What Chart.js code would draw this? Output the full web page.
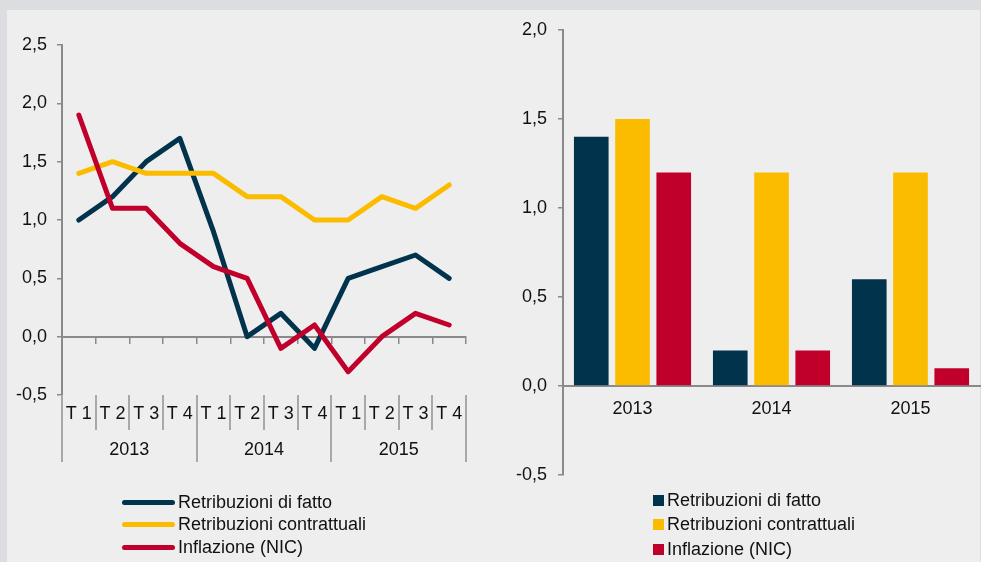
<!DOCTYPE html>
<html>
<head>
<meta charset="utf-8">
<script src="https://cdn.jsdelivr.net/npm/chart.js@4/dist/chart.umd.min.js"></script>
<style>
  html,body{margin:0;padding:0;}
  body{width:981px;height:562px;background:#dcdde0;position:relative;overflow:hidden;font-family:"Liberation Sans",Arial,sans-serif;}
  #panel{position:absolute;left:7px;top:10px;width:973px;height:552px;background:#eeeeee;}
  .wrap{position:absolute;top:0;height:562px;}
  .leg{position:absolute;font-size:18px;color:#111;}
  .row{position:absolute;left:0;white-space:nowrap;display:flex;align-items:center;height:22px;}
</style>
</head>
<body>
<div id="panel"></div>
<div class="wrap" style="left:0;width:490px;"><canvas id="c1" width="490" height="562"></canvas></div>
<div class="wrap" style="left:490px;width:491px;"><canvas id="c2" width="491" height="562"></canvas></div>
<div class="leg" id="leg1" style="left:122px;top:491px;"></div>
<div class="leg" id="leg2" style="left:653px;top:489px;"></div>
<script>
// ---- data ----
const quarters = ['T 1','T 2','T 3','T 4'];
const years = ['2013','2014','2015'];
const seriesNames = ['Retribuzioni di fatto','Retribuzioni contrattuali','Inflazione (NIC)'];
const fattoQ        = [1.0, 1.2, 1.5, 1.7, 0.9, 0.0, 0.2, -0.1, 0.5, 0.6, 0.7, 0.5];
const contrattualiQ = [1.4, 1.5, 1.4, 1.4, 1.4, 1.2, 1.2, 1.0, 1.0, 1.2, 1.1, 1.3];
const inflazioneQ   = [1.9, 1.1, 1.1, 0.8, 0.6, 0.5, -0.1, 0.1, -0.3, 0.0, 0.2, 0.1];
const fattoY        = [1.4, 0.2, 0.6];
const contrattualiY = [1.5, 1.2, 1.2];
const inflazioneY   = [1.2, 0.2, 0.1];
const colors = ['#01334d', '#fbbc00', '#c0002b'];

const FONT = {family: '"Liberation Sans", Arial, sans-serif', size: 18};
const AXIS = '#8a8a8a';
const fmt = v => Number(v).toFixed(1).replace('.', ',');

const quarterCats = [];
years.forEach(y => quarters.forEach(q => quarterCats.push(y + ' ' + q)));

// ---- plugin for the two-level category axis of the line chart ----
const multiLevel = {
  id: 'multiLevel',
  afterDraw(chart) {
    const {ctx, chartArea, scales} = chart;
    const xs = scales.x;
    const n = quarterCats.length;
    const w = (chartArea.right - chartArea.left) / n;
    const top = chartArea.bottom;
    ctx.save();
    ctx.strokeStyle = '#a8a8a8';
    ctx.lineWidth = 2;
    for (let i = 0; i <= n; i++) {
      const x = Math.round(chartArea.left + i * w);
      const long = i % quarters.length === 0;
      ctx.beginPath();
      ctx.moveTo(x, top);
      ctx.lineTo(x, top + (long ? 67 : 35));
      ctx.stroke();
    }
    ctx.fillStyle = '#111';
    ctx.font = FONT.size + 'px ' + FONT.family;
    ctx.textAlign = 'center';
    ctx.textBaseline = 'middle';
    for (let i = 0; i < n; i++) {
      ctx.fillText(quarters[i % quarters.length], xs.getPixelForValue(i), top + 19);
    }
    years.forEach((y, k) => {
      const a = xs.getPixelForValue(k * quarters.length);
      const b = xs.getPixelForValue(k * quarters.length + quarters.length - 1);
      ctx.fillText(y, (a + b) / 2, top + 55);
    });
    ctx.restore();
  }
};

// ---- line chart ----
new Chart(document.getElementById('c1'), {
  type: 'line',
  data: {
    labels: quarterCats,
    datasets: [
      {label: seriesNames[0], data: fattoQ, borderColor: colors[0], order: 3},
      {label: seriesNames[1], data: contrattualiQ, borderColor: colors[1], order: 2},
      {label: seriesNames[2], data: inflazioneQ, borderColor: colors[2], order: 1}
    ].map(d => Object.assign(d, {borderWidth: 5, pointRadius: 0, tension: 0, fill: false, borderCapStyle: 'round', borderJoinStyle: 'round'}))
  },
  options: {
    responsive: false, animation: false, devicePixelRatio: 1,
    layout: {padding: {left: 0, top: 45, right: 24, bottom: 167}},
    plugins: {legend: {display: false}, tooltip: {enabled: false}},
    scales: {
      x: {
        type: 'category', axis: 'x', position: {y: 0}, offset: true,
        grid: {display: true, drawOnChartArea: false, drawTicks: true, tickLength: 6, offset: true, color: AXIS, lineWidth: 1.5},
        border: {display: true, color: AXIS, width: 2},
        ticks: {display: false}
      },
      y: {
        min: -0.5, max: 2.5, position: 'left',
        afterFit: s => { s.width = 62; },
        ticks: {stepSize: 0.5, padding: 10, color: '#111', font: FONT, callback: fmt},
        grid: {drawOnChartArea: false, drawTicks: true, tickLength: 5, color: AXIS, lineWidth: 1.5},
        border: {color: AXIS, width: 2}
      }
    }
  },
  plugins: [multiLevel]
});

// ---- bar chart ----
new Chart(document.getElementById('c2'), {
  type: 'bar',
  data: {
    labels: years,
    datasets: [
      {label: seriesNames[0], data: fattoY, backgroundColor: colors[0]},
      {label: seriesNames[1], data: contrattualiY, backgroundColor: colors[1]},
      {label: seriesNames[2], data: inflazioneY, backgroundColor: colors[2]}
    ].map(d => Object.assign(d, {categoryPercentage: 0.89, barPercentage: 0.84, borderWidth: 0}))
  },
  options: {
    responsive: false, animation: false, devicePixelRatio: 1,
    layout: {padding: {left: 0, top: 30, right: 1, bottom: 87}},
    plugins: {legend: {display: false}, tooltip: {enabled: false}},
    scales: {
      x: {
        type: 'category', axis: 'x', position: {y: 0}, offset: true,
        grid: {display: true, drawOnChartArea: false, drawTicks: false, color: AXIS},
        border: {display: true, color: AXIS, width: 2},
        ticks: {padding: 12, color: '#111', font: FONT}
      },
      y: {
        min: -0.5, max: 2.0, position: 'left',
        afterFit: s => { s.width = 73; },
        ticks: {stepSize: 0.5, padding: 11, color: '#111', font: FONT, callback: fmt},
        grid: {drawOnChartArea: false, drawTicks: true, tickLength: 5, color: AXIS, lineWidth: 1.5},
        border: {color: AXIS, width: 2}
      }
    }
  }
});

// ---- legends (HTML text) ----
const leg1 = document.getElementById('leg1');
seriesNames.forEach((name, i) => {
  const r = document.createElement('div');
  r.className = 'row';
  r.style.top = (i * 22.5) + 'px';
  r.innerHTML = '<span style="display:inline-block;width:53px;height:5px;border-radius:3px;background:' + colors[i] + ';margin-right:3px"></span>';
  r.appendChild(document.createTextNode(name));
  leg1.appendChild(r);
});
const leg2 = document.getElementById('leg2');
seriesNames.forEach((name, i) => {
  const r = document.createElement('div');
  r.className = 'row';
  r.style.top = (i * 24.5) + 'px';
  r.innerHTML = '<span style="display:inline-block;width:11px;height:11px;background:' + colors[i] + ';margin-right:3px"></span>';
  r.appendChild(document.createTextNode(name));
  leg2.appendChild(r);
});
</script>
</body>
</html>
